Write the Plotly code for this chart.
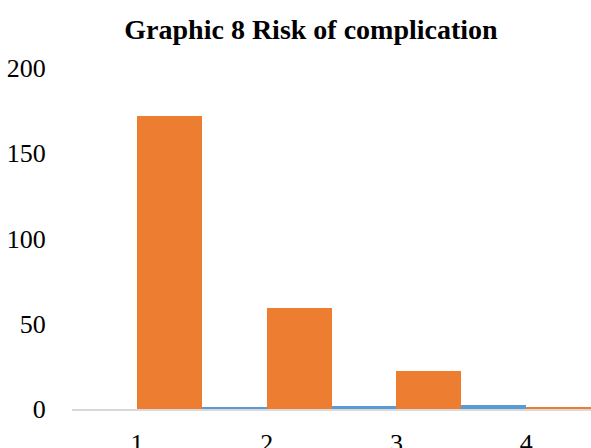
import plotly.graph_objects as go

categories = ["1", "2", "3", "4"]
series_blue = [0, 0.6, 1.6, 2.3]
series_orange = [172, 59, 22, 0.8]
y_ticks = [0, 50, 100, 150, 200]

font_family = "Liberation Serif, Times New Roman, serif"

fig = go.Figure()
fig.add_trace(go.Bar(x=categories, y=series_blue, marker_color="#5B9BD5",
                     marker_line_width=0, name="Series1"))
fig.add_trace(go.Bar(x=categories, y=series_orange, marker_color="#ED7D31",
                     marker_line_width=0, name="Series2"))

fig.update_layout(
    width=591, height=448,
    margin=dict(l=72, r=0, t=68, b=39, autoexpand=False),
    paper_bgcolor="white", plot_bgcolor="white",
    barmode="group", bargap=0, bargroupgap=0,
    showlegend=False,
    title=dict(text="<b>Graphic 8 Risk of complication</b>",
               x=311 / 591, xref="container", xanchor="center",
               y=1 - 29 / 448, yref="container", yanchor="middle",
               font=dict(family=font_family, size=28, color="black")),
    font=dict(family=font_family, size=26, color="black"),
)
fig.update_xaxes(showgrid=False, zeroline=False, showline=True,
                 linecolor="#D9D9D9", linewidth=1.5, automargin=False,
                 ticks="outside", ticklen=10, tickcolor="rgba(0,0,0,0)",
                 tickfont=dict(family=font_family, size=26, color="black"))
fig.update_yaxes(range=[0, 200], tickvals=y_ticks, showgrid=False,
                 zeroline=False, showline=False, automargin=False,
                 ticks="outside", ticklen=20, tickcolor="rgba(0,0,0,0)",
                 tickfont=dict(family=font_family, size=26, color="black"))

fig.write_html("out.html", config={"displayModeBar": False},
               post_script="document.body.style.margin='0';")
